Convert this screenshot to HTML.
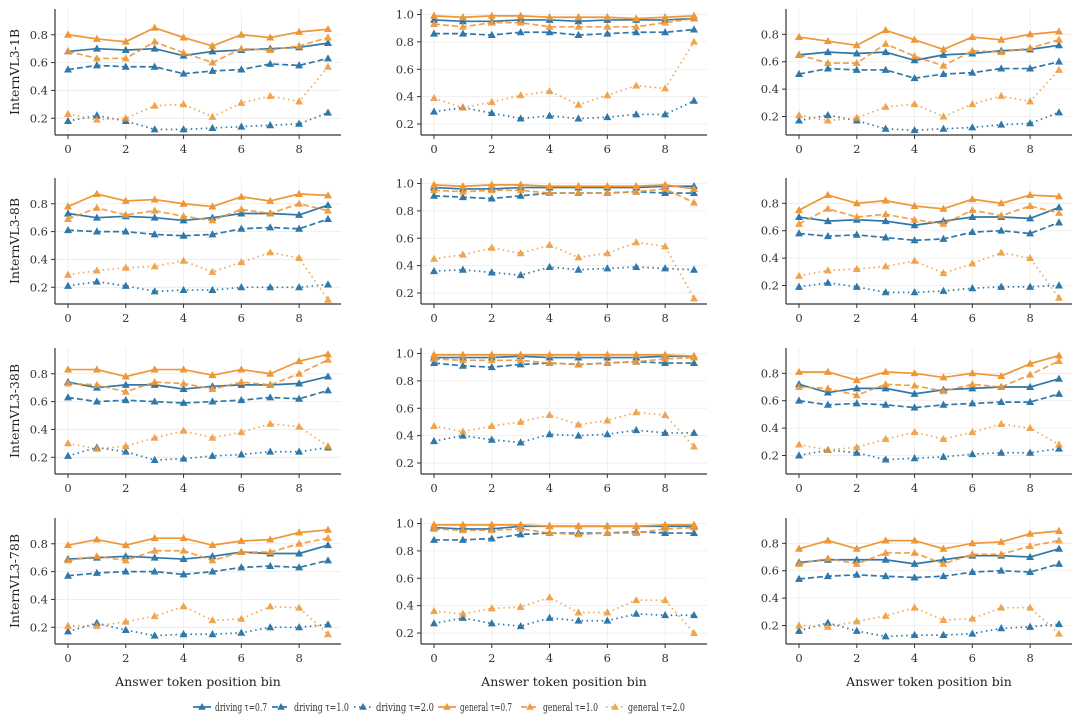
<!DOCTYPE html>
<html><head><meta charset="utf-8">
<style>
html,body{margin:0;padding:0;background:#fff;}
svg{display:block;font-family:"DejaVu Serif","Liberation Serif",serif;}
</style></head>
<body>
<svg id="chart" width="1080" height="716" viewBox="0 0 1080 716"></svg>
<script>
// ---- data ----
const categories = [0,1,2,3,4,5,6,7,8,9];
const seriesNames = ["driving τ=0.7","driving τ=1.0","driving τ=2.0","general τ=0.7","general τ=1.0","general τ=2.0"];
const rowNames = ["InternVL3-1B","InternVL3-8B","InternVL3-38B","InternVL3-78B"];
const yTicksSide = [0.2,0.4,0.6,0.8];
const yTicksMid = [0.2,0.4,0.6,0.8,1.0];
const xTicks = [0,2,4,6,8];

const r1c1 = [
 [0.68,0.70,0.69,0.70,0.65,0.68,0.69,0.70,0.71,0.74],
 [0.55,0.58,0.57,0.57,0.52,0.54,0.55,0.59,0.58,0.63],
 [0.18,0.22,0.18,0.12,0.12,0.13,0.14,0.15,0.16,0.24],
 [0.80,0.77,0.75,0.85,0.78,0.72,0.80,0.78,0.82,0.84],
 [0.68,0.63,0.63,0.75,0.67,0.60,0.70,0.69,0.72,0.78],
 [0.23,0.19,0.20,0.29,0.30,0.21,0.31,0.36,0.32,0.57]];
const r1c2 = [
 [0.96,0.95,0.95,0.96,0.96,0.95,0.96,0.96,0.96,0.97],
 [0.86,0.86,0.85,0.87,0.87,0.85,0.86,0.87,0.87,0.89],
 [0.29,0.32,0.28,0.24,0.26,0.24,0.25,0.27,0.27,0.37],
 [0.99,0.98,0.99,0.99,0.98,0.98,0.98,0.97,0.98,0.99],
 [0.93,0.91,0.94,0.94,0.91,0.91,0.91,0.91,0.94,0.97],
 [0.39,0.32,0.36,0.41,0.44,0.34,0.41,0.48,0.46,0.80]];
const r1c3 = [
 [0.65,0.67,0.66,0.67,0.61,0.65,0.66,0.68,0.69,0.72],
 [0.51,0.55,0.54,0.54,0.48,0.51,0.52,0.55,0.55,0.60],
 [0.17,0.21,0.17,0.11,0.10,0.11,0.12,0.14,0.15,0.23],
 [0.78,0.75,0.72,0.83,0.76,0.69,0.78,0.76,0.80,0.82],
 [0.65,0.59,0.59,0.73,0.64,0.57,0.68,0.67,0.70,0.76],
 [0.21,0.17,0.19,0.27,0.29,0.20,0.29,0.35,0.31,0.54]];
const r2c1 = [
 [0.73,0.70,0.71,0.70,0.68,0.70,0.73,0.73,0.72,0.79],
 [0.61,0.60,0.60,0.58,0.57,0.58,0.62,0.63,0.62,0.69],
 [0.21,0.24,0.21,0.17,0.18,0.18,0.20,0.20,0.20,0.22],
 [0.78,0.87,0.82,0.83,0.80,0.78,0.85,0.82,0.87,0.86],
 [0.69,0.77,0.72,0.75,0.71,0.68,0.76,0.73,0.80,0.75],
 [0.29,0.32,0.34,0.35,0.39,0.31,0.38,0.45,0.41,0.11]];
const r2c2 = [
 [0.97,0.96,0.96,0.97,0.97,0.97,0.97,0.97,0.98,0.98],
 [0.91,0.90,0.89,0.91,0.93,0.93,0.93,0.94,0.93,0.93],
 [0.36,0.37,0.35,0.33,0.39,0.37,0.38,0.39,0.38,0.37],
 [0.99,0.98,0.99,0.99,0.98,0.98,0.98,0.98,0.99,0.96],
 [0.95,0.94,0.95,0.95,0.93,0.93,0.93,0.94,0.96,0.86],
 [0.45,0.48,0.53,0.49,0.55,0.46,0.49,0.57,0.54,0.16]];
const r2c3 = [
 [0.70,0.67,0.68,0.67,0.64,0.67,0.70,0.70,0.69,0.77],
 [0.58,0.56,0.57,0.55,0.53,0.54,0.59,0.60,0.58,0.66],
 [0.19,0.22,0.19,0.15,0.15,0.16,0.18,0.19,0.19,0.20],
 [0.75,0.86,0.80,0.82,0.78,0.76,0.83,0.80,0.86,0.85],
 [0.65,0.76,0.70,0.72,0.68,0.65,0.75,0.71,0.78,0.73],
 [0.27,0.31,0.32,0.34,0.38,0.29,0.36,0.44,0.40,0.11]];
const r3c1 = [
 [0.74,0.70,0.72,0.72,0.69,0.71,0.72,0.72,0.73,0.78],
 [0.63,0.60,0.61,0.60,0.59,0.60,0.61,0.63,0.62,0.68],
 [0.21,0.27,0.24,0.18,0.19,0.21,0.22,0.24,0.24,0.27],
 [0.83,0.83,0.78,0.83,0.83,0.79,0.83,0.80,0.89,0.94],
 [0.73,0.72,0.67,0.74,0.73,0.69,0.74,0.72,0.80,0.90],
 [0.30,0.26,0.28,0.34,0.39,0.34,0.38,0.44,0.42,0.28]];
const r3c2 = [
 [0.97,0.97,0.97,0.98,0.97,0.97,0.97,0.97,0.98,0.98],
 [0.93,0.91,0.90,0.92,0.93,0.92,0.93,0.94,0.93,0.93],
 [0.36,0.40,0.37,0.35,0.41,0.40,0.41,0.44,0.42,0.42],
 [0.99,0.99,0.99,0.99,0.99,0.99,0.99,0.99,0.99,0.98],
 [0.96,0.95,0.95,0.95,0.93,0.92,0.93,0.94,0.96,0.97],
 [0.47,0.43,0.47,0.50,0.55,0.48,0.51,0.57,0.55,0.32]];
const r3c3 = [
 [0.72,0.66,0.69,0.69,0.65,0.68,0.69,0.70,0.70,0.76],
 [0.60,0.57,0.58,0.57,0.55,0.57,0.58,0.59,0.59,0.65],
 [0.20,0.24,0.22,0.17,0.18,0.19,0.21,0.22,0.22,0.25],
 [0.81,0.81,0.75,0.81,0.80,0.77,0.80,0.78,0.87,0.93],
 [0.70,0.69,0.64,0.72,0.71,0.67,0.72,0.70,0.79,0.89],
 [0.28,0.24,0.26,0.32,0.37,0.32,0.37,0.43,0.40,0.28]];
const r4c1 = [
 [0.69,0.70,0.71,0.70,0.69,0.71,0.74,0.73,0.73,0.79],
 [0.57,0.59,0.60,0.60,0.58,0.60,0.63,0.64,0.63,0.68],
 [0.17,0.23,0.18,0.14,0.15,0.15,0.16,0.20,0.20,0.22],
 [0.79,0.83,0.79,0.84,0.84,0.79,0.82,0.83,0.88,0.90],
 [0.68,0.71,0.68,0.75,0.75,0.68,0.74,0.74,0.80,0.84],
 [0.21,0.21,0.24,0.28,0.35,0.25,0.26,0.35,0.34,0.15]];
const r4c2 = [
 [0.97,0.96,0.96,0.98,0.98,0.98,0.98,0.98,0.98,0.98],
 [0.88,0.88,0.89,0.92,0.93,0.93,0.93,0.94,0.93,0.93],
 [0.27,0.31,0.27,0.25,0.31,0.29,0.29,0.34,0.33,0.33],
 [0.99,0.99,0.99,0.99,0.98,0.98,0.98,0.98,0.99,0.99],
 [0.96,0.95,0.95,0.96,0.93,0.92,0.93,0.93,0.96,0.97],
 [0.36,0.34,0.38,0.39,0.46,0.35,0.35,0.44,0.44,0.20]];
const r4c3 = [
 [0.66,0.68,0.68,0.68,0.65,0.68,0.71,0.71,0.70,0.76],
 [0.54,0.56,0.57,0.56,0.55,0.56,0.59,0.60,0.59,0.65],
 [0.16,0.22,0.16,0.12,0.13,0.13,0.14,0.18,0.19,0.21],
 [0.76,0.82,0.76,0.82,0.82,0.76,0.80,0.81,0.87,0.89],
 [0.65,0.69,0.65,0.73,0.73,0.65,0.72,0.72,0.78,0.82],
 [0.20,0.19,0.23,0.27,0.33,0.24,0.25,0.33,0.33,0.14]];

const panels = [[r1c1,r1c2,r1c3],[r2c1,r2c2,r2c3],[r3c1,r3c2,r3c3],[r4c1,r4c2,r4c3]];

// ---- layout / style ----
const NS = "http://www.w3.org/2000/svg";
const svg = document.getElementById("chart");
const colLeft = [55, 421, 786];
const rowBottom = [135, 304, 474, 644];
const plotW = 286, plotH = 126;
const colYLim = [[0.08,0.985],[0.12,1.04],[0.065,0.985]];
const xLim = [-0.45, 9.45];
const BLUE = "#2f78a9", ORANGE = "#ef9736";
const styles = [
 {c:BLUE, d:"", op:1},{c:BLUE, d:"6,3", op:1},{c:BLUE, d:"1.5,3.5", op:1},
 {c:ORANGE, d:"", op:1},{c:ORANGE, d:"6,3", op:0.9},{c:ORANGE, d:"1.5,3.5", op:0.85}];

function el(tag, attrs, parent){
  const e = document.createElementNS(NS, tag);
  for (const k in attrs) e.setAttribute(k, attrs[k]);
  (parent||svg).appendChild(e);
  return e;
}
function tri(cx, cy, r){
  return `${cx},${cy-r} ${cx-r*0.95},${cy+r*0.7} ${cx+r*0.95},${cy+r*0.7}`;
}

panels.forEach((row, ri) => {
  row.forEach((data, ci) => {
    const L = colLeft[ci], B = rowBottom[ri], T = B - plotH, R = L + plotW;
    const yl = colYLim[ci];
    const xs = v => L + (v - xLim[0]) / (xLim[1] - xLim[0]) * plotW;
    const ys = v => B - (v - yl[0]) / (yl[1] - yl[0]) * plotH;
    const g = el("g", {});
    
    
    const yt = ci === 1 ? yTicksMid : yTicksSide;
    xTicks.forEach(t => {
      const ln = el("line", {x1:xs(t), x2:xs(t), y1:T, y2:B, stroke:"#ececec", "stroke-width":0.8}, g);
      
      
    });
    yt.forEach(t => {
      const ln = el("line", {x1:L, x2:R, y1:ys(t), y2:ys(t), stroke:"#ececec", "stroke-width":0.8}, g);
      
      
    });
    data.forEach((vals, si) => {
      const st = styles[si];
      const pts = vals.map((v, i) => xs(categories[i]) + "," + ys(v)).join(" ");
      const pl = el("polyline", {points:pts, fill:"none", stroke:st.c, "stroke-width":1.7, "stroke-dasharray":st.d, opacity:st.op, "stroke-linejoin":"round"}, g);
      
      
      vals.forEach((v, i) => {
        const m = el("polygon", {points:tri(xs(categories[i]), ys(v), 4.2), fill:st.c, opacity:st.op}, g);
        
        
      });
    });
    const sp1 = el("line", {x1:L, x2:L, y1:T, y2:B, stroke:"#333", "stroke-width":1.2}, g);
    
    
    const sp2 = el("line", {x1:L, x2:R, y1:B, y2:B, stroke:"#333", "stroke-width":1.2}, g);
    
    
    xTicks.forEach(t => {
      el("line", {x1:xs(t), x2:xs(t), y1:B, y2:B+4, stroke:"#333", "stroke-width":1}, g);
      const tx = el("text", {x:xs(t), y:B+18, "text-anchor":"middle", "font-size":11.5, fill:"#333"}, g);
      tx.textContent = t;
      
      
    });
    yt.forEach(t => {
      el("line", {x1:L-4, x2:L, y1:ys(t), y2:ys(t), stroke:"#333", "stroke-width":1}, g);
      const tx = el("text", {x:L-7, y:ys(t)+4, "text-anchor":"end", "font-size":11.5, fill:"#333"}, g);
      tx.textContent = t.toFixed(1);
      
      
    });
    if (ci === 0) {
      const cy = (T + B) / 2;
      const lab = el("text", {x:0, y:0, transform:`translate(19,${cy}) rotate(-90)`, "text-anchor":"middle", "font-size":12.5, fill:"#222"}, g);
      lab.textContent = rowNames[ri];
      
      
    }
    if (ri === 3) {
      const xl = el("text", {x:(L+R)/2, y:686, "text-anchor":"middle", "font-size":12.5, fill:"#222"}, g);
      xl.textContent = "Answer token position bin";
      
      
    }
  });
});

// legend
const legendX = [193, 272, 354, 438, 521, 606];
const legendTextW = [52, 55, 58, 52, 55, 57];
const lg = el("g", {});


seriesNames.forEach((name, si) => {
  const st = styles[si];
  const x = legendX[si], y = 707;
  const e = el("g", {}, lg);
  
  
  el("line", {x1:x, x2:x+18, y1:y, y2:y, stroke:st.c, "stroke-width":1.7, "stroke-dasharray":st.d, opacity:st.op}, e);
  el("polygon", {points:tri(x+9, y, 4), fill:st.c, opacity:st.op}, e);
  const t = el("text", {x:x+22, y:y+4, "font-size":11, fill:"#333", textLength:legendTextW[si], lengthAdjust:"spacingAndGlyphs"}, e);
  t.textContent = name;
});
</script>
</body></html>
